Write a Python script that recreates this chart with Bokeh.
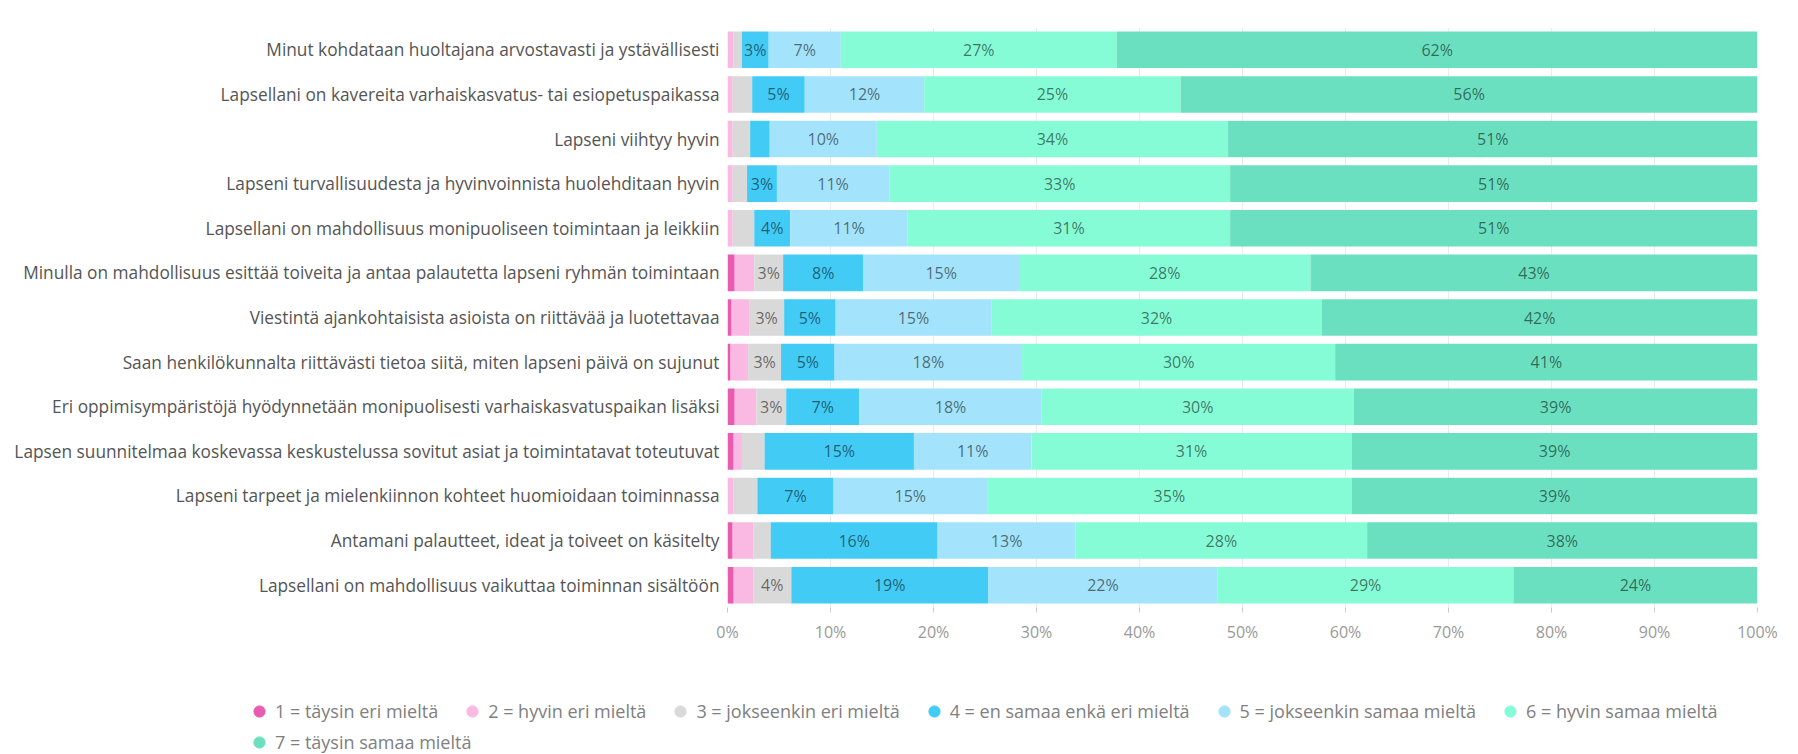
from bokeh.plotting import figure
from bokeh.layouts import column
from bokeh.models import (ColumnDataSource, FactorRange, Range1d, Legend, LegendItem,
                          PrintfTickFormatter, FixedTicker)
from bokeh.core.properties import value
from bokeh.embed import file_html
from bokeh.resources import INLINE

questions = [
    "Minut kohdataan huoltajana arvostavasti ja ystävällisesti",
    "Lapsellani on kavereita varhaiskasvatus- tai esiopetuspaikassa",
    "Lapseni viihtyy hyvin",
    "Lapseni turvallisuudesta ja hyvinvoinnista huolehditaan hyvin",
    "Lapsellani on mahdollisuus monipuoliseen toimintaan ja leikkiin",
    "Minulla on mahdollisuus esittää toiveita ja antaa palautetta lapseni ryhmän toimintaan",
    "Viestintä ajankohtaisista asioista on riittävää ja luotettavaa",
    "Saan henkilökunnalta riittävästi tietoa siitä, miten lapseni päivä on sujunut",
    "Eri oppimisympäristöjä hyödynnetään monipuolisesti varhaiskasvatuspaikan lisäksi",
    "Lapsen suunnitelmaa koskevassa keskustelussa sovitut asiat ja toimintatavat toteutuvat",
    "Lapseni tarpeet ja mielenkiinnon kohteet huomioidaan toiminnassa",
    "Antamani palautteet, ideat ja toiveet on käsitelty",
    "Lapsellani on mahdollisuus vaikuttaa toiminnan sisältöön",
]

categories = [
    "1 = täysin eri mieltä",
    "2 = hyvin eri mieltä",
    "3 = jokseenkin eri mieltä",
    "4 = en samaa enkä eri mieltä",
    "5 = jokseenkin samaa mieltä",
    "6 = hyvin samaa mieltä",
    "7 = täysin samaa mieltä",
]

s1 = [0.0, 0.0, 0.0, 0.0, 0.0, 0.7, 0.4, 0.3, 0.7, 0.6, 0.0, 0.5, 0.6]
s2 = [0.6, 0.5, 0.5, 0.5, 0.5, 1.9, 1.7, 1.7, 2.1, 0.8, 0.6, 2.0, 1.9]
s3 = [0.8, 1.9, 1.7, 1.4, 2.1, 2.8, 3.4, 3.2, 2.9, 2.2, 2.3, 1.7, 3.7]
s4 = [2.6, 5.1, 1.9, 2.9, 3.5, 7.8, 5.0, 5.2, 7.1, 14.5, 7.4, 16.2, 19.1]
s5 = [7.0, 11.6, 10.4, 10.9, 11.4, 15.1, 15.1, 18.2, 17.7, 11.4, 14.9, 13.4, 22.3]
s6 = [26.8, 24.9, 34.1, 33.1, 31.3, 28.3, 32.1, 30.4, 30.3, 31.1, 35.4, 28.3, 28.7]
s7 = [62.2, 56.0, 51.4, 51.2, 51.2, 43.4, 42.3, 41.0, 39.2, 39.4, 39.4, 37.9, 23.7]

x_ticks = [0, 10, 20, 30, 40, 50, 60, 70, 80, 90, 100]

colors = ["#e95bb0", "#f9b9e2", "#d9d9d9", "#42cbf5", "#a3e3fb", "#86fcd6", "#6be0c1"]

series = [s1, s2, s3, s4, s5, s6, s7]
keys = ["s1", "s2", "s3", "s4", "s5", "s6", "s7"]

data = {"q": questions}
for k, s in zip(keys, series):
    data[k] = s
source = ColumnDataSource(data)

FONT = "Open Sans"

p = figure(
    width=1782, height=657,
    y_range=FactorRange(factors=list(reversed(questions)), range_padding=0),
    x_range=Range1d(0, 100),
    output_backend="svg", toolbar_location=None,
    min_border_left=727, min_border_right=25, min_border_top=27, min_border_bottom=50,
)
p.outline_line_color = None
p.background_fill_color = "white"

p.hbar_stack(keys, y="q", height=0.82, color=colors, line_color=None, source=source)

# segment labels
lx, ly, lt = [], [], []
for i, q in enumerate(questions):
    start = 0.0
    for s in series:
        v = s[i]
        if v >= 2.5:
            lx.append(start + v / 2.0)
            ly.append(q)
            lt.append("%d%%" % int(v + 0.5))
        start += v
p.text(x=lx, y=ly, text=lt, text_align="center", text_baseline="middle",
       text_font=value(FONT), text_font_size="16px",
       text_color="black", text_alpha=0.55)

# axes
p.xaxis.ticker = FixedTicker(ticks=x_ticks)
p.xaxis.formatter = PrintfTickFormatter(format="%d%%")
p.xaxis.axis_line_color = None
p.xaxis.major_tick_in = 0
p.xaxis.major_tick_out = 5
p.xaxis.major_tick_line_color = "#cccccc"
p.xaxis.minor_tick_line_color = None
p.xaxis.major_label_text_font = FONT
p.xaxis.major_label_text_font_size = "16px"
p.xaxis.major_label_text_color = "#999999"
p.xaxis.major_label_standoff = 8

p.yaxis.axis_line_color = None
p.yaxis.major_tick_line_color = None
p.yaxis.minor_tick_line_color = None
p.yaxis.major_label_text_font = FONT
p.yaxis.major_label_text_font_size = "17.3px"
p.yaxis.major_label_text_color = "#555555"
p.yaxis.major_label_standoff = 2

p.xgrid.grid_line_color = "#ebebeb"
p.ygrid.grid_line_color = None

# legend figure
lf = figure(width=1782, height=97, x_range=Range1d(0, 1), y_range=Range1d(0, 1),
            output_backend="svg", toolbar_location=None,
            x_axis_location=None, y_axis_location=None,
            min_border_left=0, min_border_right=0, min_border_top=0, min_border_bottom=0)
lf.outline_line_color = None
lf.xgrid.visible = False
lf.ygrid.visible = False
if "frame_align" in lf.properties():
    lf.frame_align = False
    p.frame_align = False

nan = float("nan")
items = []
for c, name in zip(colors, categories):
    r = lf.scatter(x=[nan], y=[nan], marker="circle", size=12, color=c)
    items.append(LegendItem(label=name, renderers=[r]))


def make_legend(its, loc):
    return Legend(items=its, orientation="horizontal", location=loc,
                  glyph_width=28, glyph_height=28, label_standoff=2, spacing=20,
                  padding=0, margin=0, border_line_color=None,
                  background_fill_alpha=0,
                  label_text_font=FONT, label_text_font_size="18px",
                  label_text_color="#808080")


lf.add_layout(make_legend(items[:6], (245, 29)))
lf.add_layout(make_legend(items[6:], (245, -2)))

layout = column(p, lf, spacing=0)

open("out.html", "w").write(file_html(layout, INLINE))
